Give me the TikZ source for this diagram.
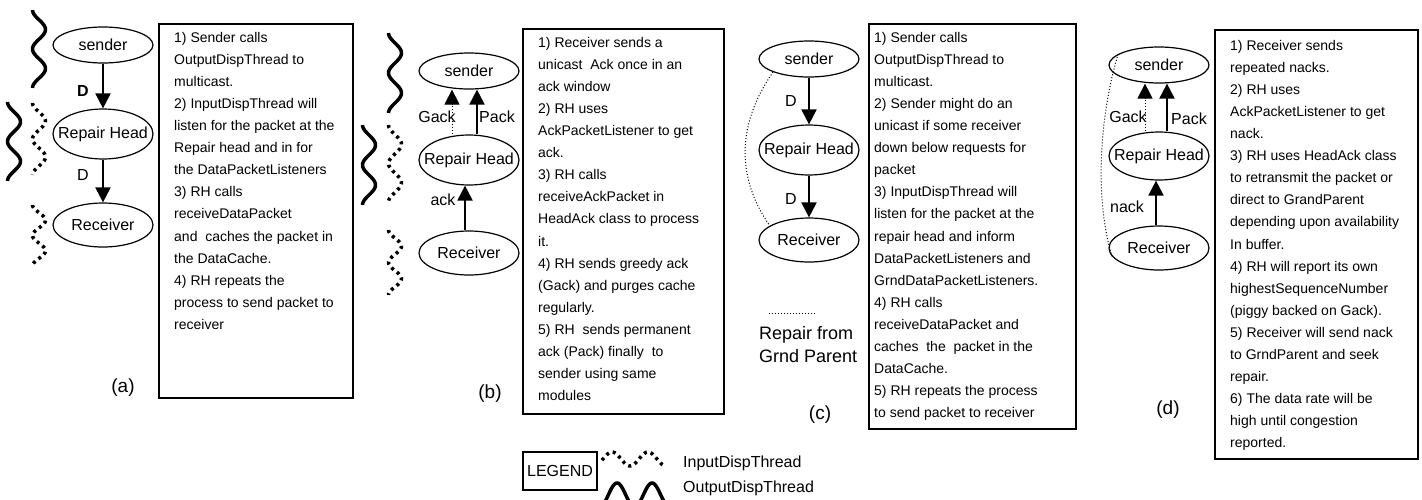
\documentclass[tikz,border=0pt]{standalone}
\usepackage{fontspec}
\setmainfont{Liberation Sans}
\usetikzlibrary{shapes.geometric,arrows.meta,positioning}

% vertical thread wave: x centre, top y, bottom y, style
\newcommand{\vwave}[4]{\draw[#4] plot[domain=0:1, samples=60, smooth] ({#1-6.5*cos(720*\x)}, {#2+(#3-#2)*\x});}

\begin{document}
\begin{tikzpicture}[x=1pt, y=-1pt,
    proc/.style={ellipse, draw, line width=1.2pt, inner sep=0pt, minimum width=100pt, font=\fontsize{16}{18}\selectfont},
    note/.style={draw, line width=1.6pt, anchor=north west, inner sep=0pt},
    notetext/.style={anchor=north west, inner sep=0pt, align=left, font=\fontsize{14}{22.1}\selectfont},
    lbl/.style={inner sep=0pt, font=\fontsize{16}{18}\selectfont},
    panelcap/.style={inner sep=0pt, font=\fontsize{19}{22}\selectfont},
    arr/.style={line width=2pt, -{Triangle[width=15pt,length=15pt]}},
    garr/.style={line width=1pt, dotted, -{Triangle[width=15pt,length=15pt]}},
    outwave/.style={line width=3.5pt},
    inwave/.style={line width=3.5pt, dash pattern=on 3pt off 4pt},
    grnd/.style={line width=1pt, dotted}]

    \useasboundingbox (0,0) rectangle (1422,499);

    % Panel (a)
    \node[proc, minimum height=36pt] (sa) at (103,45) {\makebox[0pt]{sender}};
    \node[proc, minimum height=50pt] (rha) at (103,134) {\makebox[0pt]{Repair Head}};
    \node[proc, minimum height=44pt] (ra) at (103,225) {\makebox[0pt]{Receiver}};
    \draw[arr] (sa) -- (rha);
    \draw[arr] (rha) -- (ra);
    \node[lbl, font=\fontsize{16}{18}\selectfont\bfseries] (da1) at (83,91) {D};
    \node[lbl] (da2) at (83,175) {D};
    \vwave{39}{10}{88}{outwave}
    \vwave{14}{102}{181}{outwave}
    \vwave{39}{103}{175}{inwave}
    \vwave{39}{205}{266}{inwave}
    \node[note, minimum width=194pt, minimum height=374pt] (boxa) at (158,23) {};
    \node[notetext] (texta) at (174,31.8) {1) Sender calls\\
        OutputDispThread to\\
        multicast.\\
        2) InputDispThread will\\
        listen for the packet at the\\
        Repair head and in for\\
        the DataPacketListeners\\
        3) RH calls\\
        receiveDataPacket\\
        and\ \ caches the packet in\\
        the DataCache.\\
        4) RH repeats the\\
        process to send packet to\\
        receiver};
    \node[panelcap] (capa) at (123,388) {(a)};

    % Panel (b)
    \node[proc, minimum height=36pt] (sb) at (469,71) {\makebox[0pt]{sender}};
    \node[proc, minimum height=50pt] (rhb) at (469,160) {\makebox[0pt]{Repair Head}};
    \node[proc, minimum height=44pt] (rb) at (469,253) {\makebox[0pt]{Receiver}};
    \draw[garr] ([xshift=-17pt]rhb.north) -- ([xshift=-17pt]sb.south);
    \draw[arr] ([xshift=8pt]rhb.north) -- ([xshift=8pt]sb.south);
    \draw[arr] ([xshift=-4pt]rb.north) -- ([xshift=-4pt]rhb.south);
    \node[lbl] (gb) at (437,117) {Gack};
    \node[lbl] (pb) at (497,117) {Pack};
    \node[lbl] (ab) at (443,200) {ack};
    \vwave{395}{33}{113}{outwave}
    \vwave{369}{125}{205}{outwave}
    \vwave{395}{125}{202}{inwave}
    \vwave{395}{230}{295}{inwave}
    \node[note, minimum width=201pt, minimum height=385pt] (boxb) at (522,28) {};
    \node[notetext] (textb) at (538,36.8) {1) Receiver sends a\\
        unicast\ \ Ack once in an\\
        ack window\\
        2) RH uses\\
        AckPacketListener to get\\
        ack.\\
        3) RH calls\\
        receiveAckPacket in\\
        HeadAck class to process\\
        it.\\
        4) RH sends greedy ack\\
        (Gack) and purges cache\\
        regularly.\\
        5) RH\ \ sends permanent\\
        ack (Pack) finally\ \ to\\
        sender using same\\
        modules};
    \node[panelcap] (capb) at (490,394) {(b)};

    % Panel (c)
    \node[proc, minimum height=36pt] (sc) at (809,59) {\makebox[0pt]{sender}};
    \node[proc, minimum height=50pt] (rhc) at (809,150) {\makebox[0pt]{Repair Head}};
    \node[proc, minimum height=44pt] (rc) at (809,240) {\makebox[0pt]{Receiver}};
    \draw[arr] (sc) -- (rhc);
    \draw[arr] (rhc) -- (rc);
    \node[lbl] (dc1) at (791,101) {D};
    \node[lbl] (dc2) at (791,199) {D};
    \draw[grnd] (sc.200) .. controls +(-35,50) and +(-35,-50) .. (rc.160);
    \draw[grnd] (769,313) -- (816,313);
    \node[anchor=north west, inner sep=0pt, align=left, font=\fontsize{18}{23}\selectfont] (gpc) at (759,326.5) {Repair from\\Grnd Parent};
    \node[note, minimum width=207pt, minimum height=405pt] (boxc) at (868,23) {};
    \node[notetext] (textc) at (874,31.8) {1) Sender calls\\
        OutputDispThread to\\
        multicast.\\
        2) Sender might do an\\
        unicast if some receiver\\
        down below requests for\\
        packet\\
        3) InputDispThread will\\
        listen for the packet at the\\
        repair head and inform\\
        DataPacketListeners and\\
        GrndDataPacketListeners.\\
        4) RH calls\\
        receiveDataPacket and\\
        caches\ \ the\ \ packet in the\\
        DataCache.\\
        5) RH repeats the process\\
        to send packet to receiver};
    \node[panelcap] (capc) at (820,415) {(c)};

    % Panel (d)
    \node[proc, minimum height=36pt] (sd) at (1159,65) {\makebox[0pt]{sender}};
    \node[proc, minimum height=48pt] (rhd) at (1159,156) {\makebox[0pt]{Repair Head}};
    \node[proc, minimum height=44pt] (rd) at (1159,248) {\makebox[0pt]{Receiver}};
    \draw[garr] ([xshift=-14pt]rhd.north) -- ([xshift=-14pt]sd.south);
    \draw[arr] ([xshift=8pt]rhd.north) -- ([xshift=8pt]sd.south);
    \draw[arr] ([xshift=-3pt]rd.north) -- ([xshift=-3pt]rhd.south);
    \node[lbl] (gd) at (1128,117) {Gack};
    \node[lbl] (pd) at (1189,119) {Pack};
    \node[lbl] (nd) at (1127,207) {nack};
    \draw[grnd] (sd.165) .. controls +(-18,60) and +(-18,-60) .. (rd.190);
    \node[note, minimum width=203pt, minimum height=429pt] (boxd) at (1214,29) {};
    \node[notetext] (textd) at (1230,39.8) {1) Receiver sends\\
        repeated nacks.\\
        2) RH uses\\
        AckPacketListener to get\\
        nack.\\
        3) RH uses HeadAck class\\
        to retransmit the packet or\\
        direct to GrandParent\\
        depending upon availability\\
        In buffer.\\
        4) RH will report its own\\
        highestSequenceNumber\\
        (piggy backed on Gack).\\
        5) Receiver will send nack\\
        to GrndParent and seek\\
        repair.\\
        6) The data rate will be\\
        high until congestion\\
        reported.};
    \node[panelcap] (capd) at (1168,410) {(d)};

    % Legend
    \node[draw, line width=1.3pt, minimum width=74pt, minimum height=38pt, inner sep=0pt, font=\fontsize{16}{18}\selectfont] (legend) at (560,471) {LEGEND};
    \draw[inwave] plot[domain=0:1, samples=40, smooth] ({602+62*\x}, {459-7*cos(620*\x-100)});
    \draw[outwave] plot[domain=0:1, samples=60, smooth] ({600+67*\x}, {495-12*cos(689*\x-175)});
    \node[lbl, anchor=west] (inleg) at (683,463) {InputDispThread};
    \node[lbl, anchor=west] (outleg) at (683,488) {OutputDispThread};

\end{tikzpicture}
\end{document}
